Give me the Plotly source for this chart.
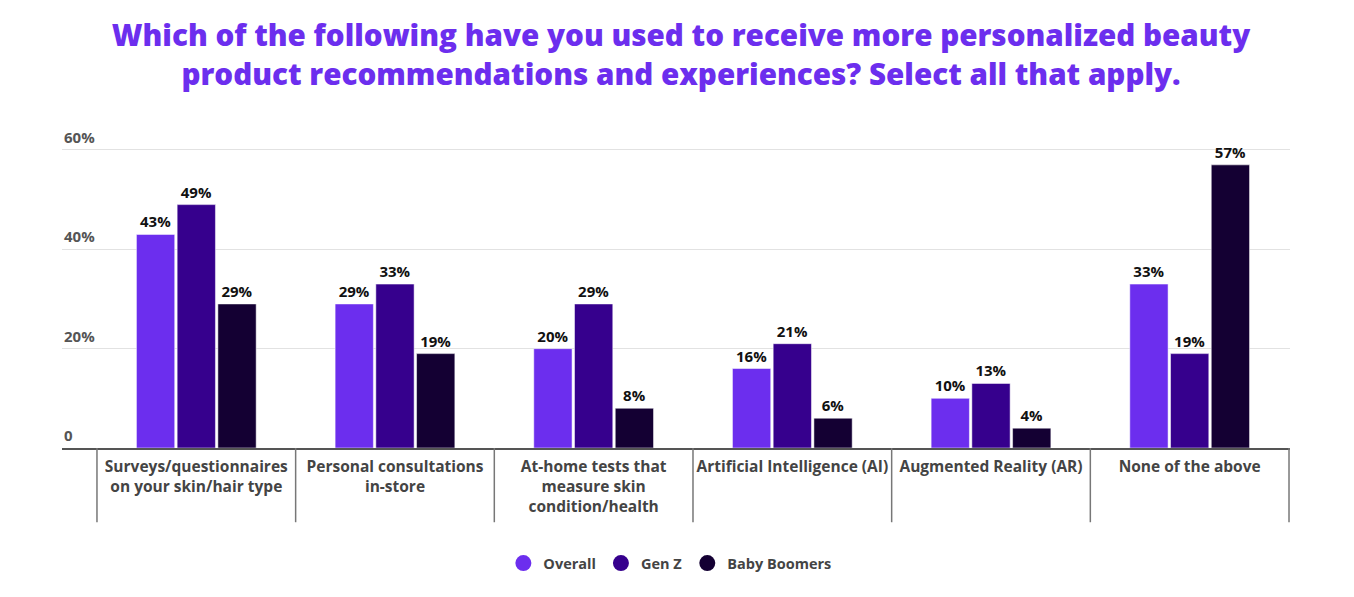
import plotly.graph_objects as go

categories = [
    "Surveys/questionnaires<br>on your skin/hair type",
    "Personal consultations<br>in-store",
    "At-home tests that<br>measure skin<br>condition/health",
    "Artificial Intelligence (AI)",
    "Augmented Reality (AR)",
    "None of the above",
]
overall = [43, 29, 20, 16, 10, 33]
gen_z = [49, 33, 29, 21, 13, 19]
baby_boomers = [29, 19, 8, 6, 4, 57]
series_names = ["Overall", "Gen Z", "Baby Boomers"]
series_values = [overall, gen_z, baby_boomers]
colors = ["#6C2EEE", "#36008D", "#140033"]
y_tickvals = [0, 20, 40, 60]
y_ticktext = ["0", "20%", "40%", "60%"]

FONT = "Open Sans"
xpos = list(range(len(categories)))

fig = go.Figure()
for name, vals, col in zip(series_names, series_values, colors):
    fig.add_trace(go.Bar(
        x=xpos, y=vals, name=name,
        marker=dict(color=col, line=dict(color="rgba(255,255,255,0.5)", width=1)),
        text=[f"{v}%" for v in vals], textposition="outside", constraintext="none",
        textfont=dict(family=FONT, size=15, color="#111111", weight="bold"),
        cliponaxis=False, showlegend=False,
    ))
for name, col in zip(series_names, colors):
    fig.add_trace(go.Scatter(
        x=[None], y=[None], mode="markers", name=name,
        marker=dict(symbol="circle", size=20, color=col),
    ))

# category divider lines
for i in range(len(categories) + 1):
    fig.add_shape(type="line", xref="x", yref="paper", x0=i - 0.5, x1=i - 0.5,
                  y0=0, y1=-0.245, line=dict(color="#777777", width=1.5))

# y tick labels placed above the gridlines, left aligned
for v, t in zip(y_tickvals, y_ticktext):
    fig.add_annotation(x=0, xref="paper", xanchor="left", y=v, yref="y", yanchor="bottom",
                       yshift=1, text=t, showarrow=False,
                       font=dict(family=FONT, size=15, color="#555555", weight="bold"))

# page body has an 8px margin, so the figure is shrunk by 8px to fit the window
fig.update_layout(
    width=1346, height=589,
    margin=dict(l=54, r=64, t=137, b=149, autoexpand=False),
    plot_bgcolor="white", paper_bgcolor="white",
    barmode="group", bargap=0.385, bargroupgap=0.06,
    title=dict(
        text="Which of the following have you used to receive more personalized beauty<br>product recommendations and experiences? Select all that apply.",
        x=0.5, xanchor="center", y=0.935, yanchor="middle",
        font=dict(family=FONT, size=29.6, color="#6C2EEE", weight=800),
    ),
    legend=dict(orientation="h", x=0.495, xanchor="center", y=-0.38, yanchor="middle",
                font=dict(family=FONT, size=14.5, color="#444444", weight="bold")),
    xaxis=dict(
        range=[-0.676, 5.505], tickvals=xpos, ticktext=categories,
        tickfont=dict(family=FONT, size=15.5, color="#444444", weight="bold"),
        ticklabelstandoff=3,
        showline=True, linecolor="#555555", linewidth=2, ticks="", showgrid=False,
        zeroline=False, automargin=False,
    ),
    yaxis=dict(
        range=[0, 61], tickvals=y_tickvals, showticklabels=False,
        showgrid=True, gridcolor="#E2E2E2", gridwidth=1, zeroline=False, automargin=False,
    ),
)

fig.write_html("out.html")
